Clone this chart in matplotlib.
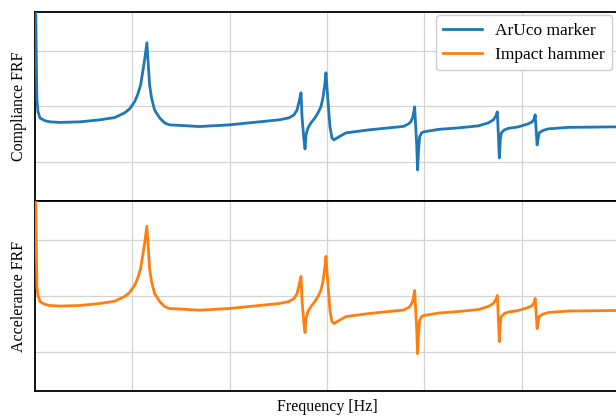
import numpy as np
import matplotlib
matplotlib.use("Agg")
import matplotlib.pyplot as plt

# ---- data ----
freq_hz = [0.5, 0.8, 1.5, 2.0, 3.1, 5.1, 10.2, 15.4, 25.6, 46.1,
           66.5, 81.9, 92.1, 97.2, 102.4, 105.4, 108.5, 110.5, 112.6, 114.9,
           116.2, 117.7, 119.7, 122.8, 128.0, 133.1, 138.2, 148.4, 168.9, 199.6,
           230.3, 250.8, 261.0, 266.1, 269.2, 271.2, 273.3, 274.3, 276.3, 277.4,
           278.4, 280.4, 283.5, 287.6, 290.7, 293.7, 295.8, 297.9, 298.9, 299.9,
           301.4, 303.0, 305.0, 307.1, 312.2, 319.4, 342.9, 363.3, 378.7, 383.8,
           385.9, 387.9, 388.9, 390.0, 391.0, 392.0, 393.0, 394.0, 395.1, 397.1,
           399.2, 414.5, 435.0, 455.5, 465.7, 470.8, 472.9, 473.9, 474.9, 476.0,
           477.0, 478.0, 479.0, 482.1, 486.2, 496.4, 506.6, 510.7, 512.8, 513.8,
           514.8, 515.8, 516.9, 517.9, 522.0, 527.1, 547.6, 594.7, 600.0]

# log10 of compliance FRF magnitude (ArUco marker)
compliance_log10 = [-1.0, -2.29, -3.35, -3.885, -4.10, -4.21, -4.26, -4.28, -4.29, -4.28,
                    -4.244, -4.203, -4.118, -4.047, -3.916, -3.795, -3.616, -3.400, -3.167, -2.862,
                    -3.203, -3.616, -3.849, -4.065, -4.208, -4.299, -4.334, -4.343, -4.364, -4.334,
                    -4.280, -4.244, -4.208, -4.154, -4.065, -3.921, -3.759, -4.190, -4.603, -4.765,
                    -4.513, -4.388, -4.298, -4.208, -4.118, -4.011, -3.849, -3.580, -3.400, -3.652,
                    -4.011, -4.370, -4.567, -4.603, -4.549, -4.478, -4.424, -4.388, -4.361, -4.316,
                    -4.280, -4.208, -4.118, -4.011, -4.334, -4.657, -5.142, -4.783, -4.549, -4.478,
                    -4.460, -4.415, -4.388, -4.352, -4.298, -4.244, -4.190, -4.154, -4.101, -4.513,
                    -4.926, -4.603, -4.478, -4.424, -4.397, -4.370, -4.316, -4.280, -4.226, -4.154,
                    -4.424, -4.693, -4.567, -4.478, -4.433, -4.406, -4.379, -4.370, -4.370]

# log10 of accelerance FRF magnitude (Impact hammer)
accelerance_log10 = [3.11, 1.82, 0.76, 0.15, 0.01, -0.10, -0.15, -0.17, -0.18, -0.17,
                     -0.134, -0.093, -0.008, 0.063, 0.194, 0.315, 0.494, 0.710, 0.943, 1.248,
                     0.907, 0.494, 0.261, 0.045, -0.098, -0.189, -0.224, -0.233, -0.254, -0.224,
                     -0.170, -0.134, -0.098, -0.044, 0.045, 0.189, 0.351, -0.080, -0.493, -0.655,
                     -0.403, -0.278, -0.188, -0.098, -0.008, 0.099, 0.261, 0.530, 0.710, 0.458,
                     0.099, -0.260, -0.457, -0.493, -0.439, -0.368, -0.314, -0.278, -0.251, -0.206,
                     -0.170, -0.098, -0.008, 0.099, -0.224, -0.547, -1.032, -0.673, -0.439, -0.368,
                     -0.350, -0.305, -0.278, -0.242, -0.188, -0.134, -0.080, -0.044, 0.009, -0.403,
                     -0.816, -0.493, -0.368, -0.314, -0.287, -0.260, -0.206, -0.170, -0.116, -0.044,
                     -0.314, -0.583, -0.457, -0.368, -0.323, -0.296, -0.269, -0.260, -0.260]

series_labels = ["ArUco marker", "Impact hammer"]
ylabels = ["Compliance FRF", "Accelerance FRF"]
xlabel = "Frequency [Hz]"

# ---- figure ----
plt.rcParams['font.family'] = ['Liberation Serif', 'DejaVu Serif']
plt.rcParams['font.size'] = 11.5

fig = plt.figure(figsize=(6.16, 4.19), dpi=100)
left, right = 35 / 616, 1.005
ax1 = fig.add_axes([left, 1 - 201 / 419, right - left, (201 - 11.5) / 419])
ax2 = fig.add_axes([left, 1 - 391 / 419, right - left, (391 - 201) / 419], sharex=ax1)

f = np.array(freq_hz)
l1, = ax1.plot(f, 10 ** np.array(compliance_log10), color='#1f77b4', lw=2.0,
               label=series_labels[0], zorder=3, solid_joinstyle='round')
l2, = ax2.plot(f, 10 ** np.array(accelerance_log10), color='#ff7f0e', lw=2.0,
               label=series_labels[1], zorder=3, solid_joinstyle='round')

ax1.set_yscale('log')
ax2.set_yscale('log')
ax1.set_ylim(10 ** -5.7, 10 ** -2.3)
ax2.set_ylim(10 ** -1.7, 10 ** 1.7)
ax1.set_xlim(0, 600)
ax1.set_xticks([100, 200, 300, 400, 500])
ax1.set_yticks([1e-5, 1e-4, 1e-3])
ax2.set_yticks([1e-1, 1e0, 1e1])

for ax, yl in zip((ax1, ax2), ylabels):
    ax.yaxis.set_minor_locator(matplotlib.ticker.NullLocator())
    ax.grid(True, color='#d3d3d3', lw=0.9)
    ax.set_axisbelow(True)
    ax.tick_params(which='both', length=0, labelleft=False, labelbottom=False)
    for s in ax.spines.values():
        s.set_color('black')
        s.set_linewidth(1.3)
    ax.set_ylabel(yl, labelpad=6)

ax2.set_xlabel(xlabel, labelpad=6)

leg = ax1.legend(handles=[l1, l2], loc='upper right',
                 bbox_to_anchor=(612 / 616, 1 - 15.5 / 419), bbox_transform=fig.transFigure,
                 borderaxespad=0, frameon=True, fancybox=True, edgecolor='#cccccc',
                 framealpha=1.0, handlelength=2.2, fontsize=12.5)

fig.savefig('out.png', dpi=100)
